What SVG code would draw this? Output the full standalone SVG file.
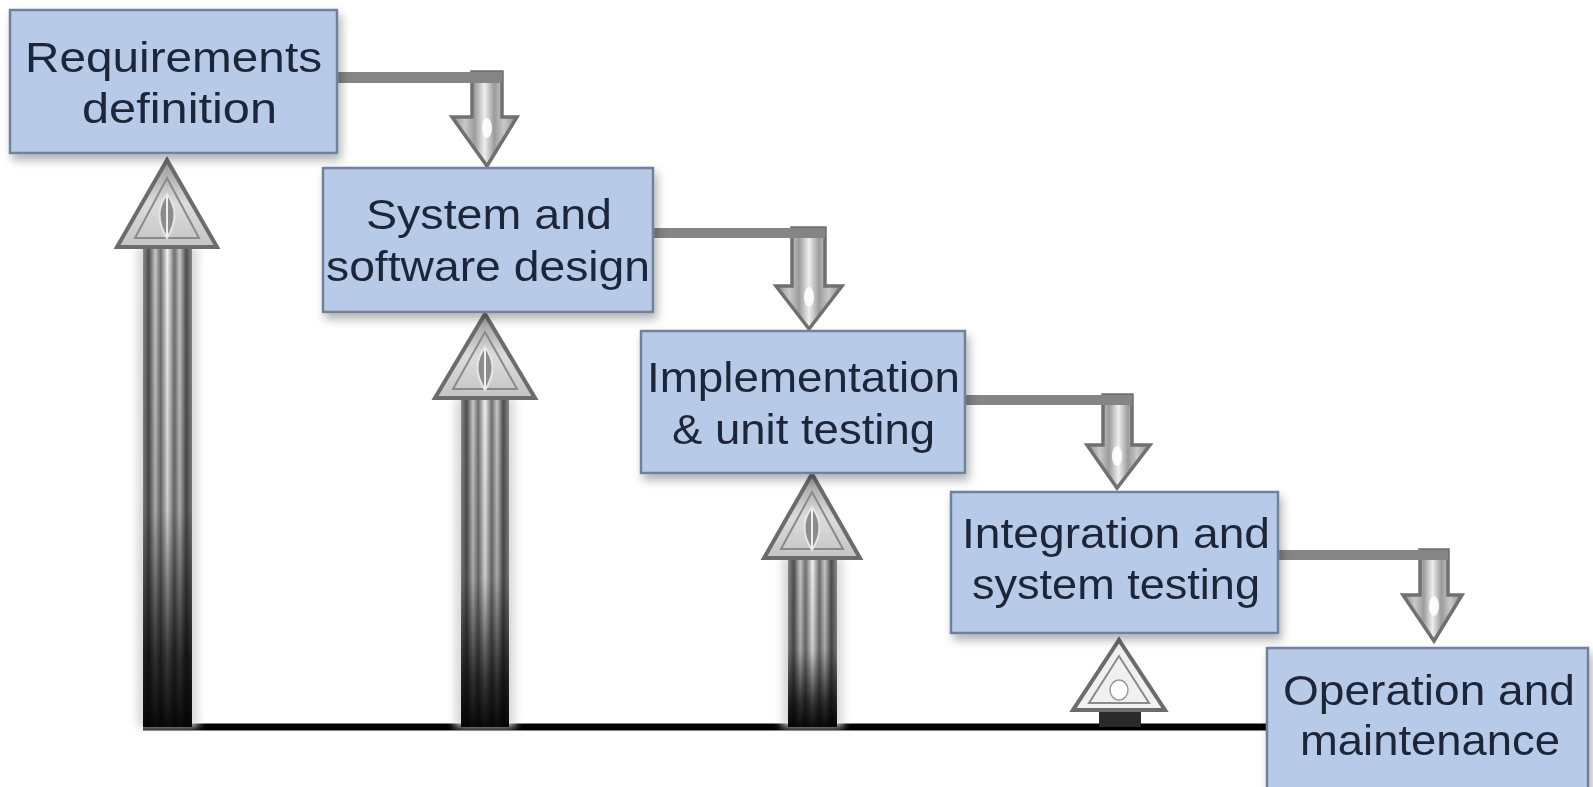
<svg xmlns="http://www.w3.org/2000/svg" width="1593" height="787" viewBox="0 0 1593 787">
<defs>
<style>
.box{fill:#b7cbe8;stroke:#6f819b;stroke-width:2.5}
.lbl{font-family:"Liberation Sans",Arial,sans-serif;font-size:42px;fill:#1b2638}
.bar{fill:#858585}
.dshaft{fill:url(#dgrad);stroke:#707070;stroke-width:3.5;stroke-linejoin:miter}
.uhead{fill:url(#hgrad);stroke:#6c6c6c;stroke-width:4;stroke-linejoin:miter}
.uinner{fill:none;stroke:#8a8a8a;stroke-width:2}
.ueye{fill:#8c8c8c;stroke:#e6e6e6;stroke-width:2}
.ushaft{fill:url(#sgrad)}
.udark{fill:url(#vgrad)}
.glow{fill:#d8d8d8;filter:url(#blur)}
.glint{fill:#ffffff;opacity:0.9}
</style>
<filter id="shadow" x="-10%" y="-10%" width="130%" height="140%">
<feDropShadow dx="3" dy="6" stdDeviation="5" flood-color="#000" flood-opacity="0.3"/>
</filter>
<filter id="blur" x="-50%" y="-10%" width="200%" height="120%">
<feGaussianBlur stdDeviation="4"/>
</filter>
<linearGradient id="dgrad" x1="0" y1="0" x2="1" y2="0">
<stop offset="0" stop-color="#8a8a8a"/>
<stop offset="0.2" stop-color="#c8c8c8"/>
<stop offset="0.35" stop-color="#9c9c9c"/>
<stop offset="0.5" stop-color="#eeeeee"/>
<stop offset="0.65" stop-color="#9c9c9c"/>
<stop offset="0.8" stop-color="#c8c8c8"/>
<stop offset="1" stop-color="#8a8a8a"/>
</linearGradient>
<linearGradient id="hgrad" x1="0" y1="0" x2="0" y2="1">
<stop offset="0" stop-color="#9a9a9a"/>
<stop offset="0.5" stop-color="#dcdcdc"/>
<stop offset="1" stop-color="#c4c4c4"/>
</linearGradient>
<linearGradient id="sgrad" x1="0" y1="0" x2="1" y2="0">
<stop offset="0" stop-color="#8a8a8a"/>
<stop offset="0.12" stop-color="#4e4e4e"/>
<stop offset="0.25" stop-color="#c8c8c8"/>
<stop offset="0.36" stop-color="#707070"/>
<stop offset="0.5" stop-color="#f2f2f2"/>
<stop offset="0.64" stop-color="#707070"/>
<stop offset="0.75" stop-color="#c8c8c8"/>
<stop offset="0.88" stop-color="#4e4e4e"/>
<stop offset="1" stop-color="#8a8a8a"/>
</linearGradient>
<linearGradient id="vgrad" x1="0" y1="0" x2="0" y2="1">
<stop offset="0" stop-color="#000" stop-opacity="0"/>
<stop offset="0.55" stop-color="#000" stop-opacity="0.15"/>
<stop offset="0.85" stop-color="#000" stop-opacity="0.75"/>
<stop offset="1" stop-color="#000" stop-opacity="0.95"/>
</linearGradient>
</defs>
<rect width="1593" height="787" fill="#ffffff"/>

<g id="connectors">
<g id="down1">
<polygon class="dshaft" points="472,72 502,72 502,117 517,117 487,166 452,117 472,117"/>
<rect class="bar" x="337" y="72" width="165" height="11"/>
<ellipse class="glint" cx="487" cy="128" rx="5" ry="10"/>
</g>
<g id="down2">
<polygon class="dshaft" points="792,228 825,228 825,286 842,286 809,329 776,286 792,286"/>
<rect class="bar" x="653" y="228" width="172" height="10"/>
<ellipse class="glint" cx="809" cy="297" rx="5" ry="10"/>
</g>
<g id="down3">
<polygon class="dshaft" points="1103,395 1132,395 1132,445 1150,445 1117,488 1087,445 1103,445"/>
<rect class="bar" x="965" y="395" width="167" height="10"/>
<ellipse class="glint" cx="1117" cy="456" rx="5" ry="10"/>
</g>
<g id="down4">
<polygon class="dshaft" points="1420,550 1448,550 1448,595 1462,595 1434,641 1403,595 1420,595"/>
<rect class="bar" x="1278" y="550" width="170" height="10"/>
<ellipse class="glint" cx="1434" cy="606" rx="5" ry="10"/>
</g>

<line x1="143" y1="727" x2="1268" y2="727" stroke="#000" stroke-width="7"/>

<g id="up1">
<rect class="glow" x="137" y="247" width="61" height="480"/>
<rect class="ushaft" x="143" y="245" width="49" height="482"/>
<rect class="udark" x="143" y="245" width="49" height="482"/>
<polygon class="uhead" points="167,160 217,247 117,247"/>
<polygon class="uinner" points="167,178 199,238 135,238"/>
<path class="ueye" d="M167,194 Q182,214 167,238 Q152,214 167,194 Z"/>
<line x1="167" y1="196" x2="167" y2="236" stroke="#f0f0f0" stroke-width="2"/>
</g>
<g id="up2">
<rect class="glow" x="455" y="398" width="60" height="329"/>
<rect class="ushaft" x="461" y="396" width="48" height="331"/>
<rect class="udark" x="461" y="396" width="48" height="331"/>
<polygon class="uhead" points="485,314 535,398 435,398"/>
<polygon class="uinner" points="485,332 517,389 453,389"/>
<path class="ueye" d="M485,347 Q500,367 485,390 Q470,367 485,347 Z"/>
<line x1="485" y1="349" x2="485" y2="388" stroke="#f0f0f0" stroke-width="2"/>
</g>
<g id="up3">
<rect class="glow" x="782" y="558" width="61" height="169"/>
<rect class="ushaft" x="788" y="556" width="49" height="171"/>
<rect class="udark" x="788" y="556" width="49" height="171"/>
<polygon class="uhead" points="812,474 860,558 764,558"/>
<polygon class="uinner" points="812,492 843,549 781,549"/>
<path class="ueye" d="M812,507 Q827,527 812,550 Q797,527 812,507 Z"/>
<line x1="812" y1="509" x2="812" y2="548" stroke="#f0f0f0" stroke-width="2"/>
</g>
<g id="up4">
<rect x="1099" y="706" width="42" height="21" fill="#2a2a2a"/>
<polygon class="uhead" points="1119,640 1165,710 1073,710" style="fill:#f0f0f0"/>
<polygon class="uinner" points="1119,656 1149,703 1089,703"/>
<ellipse cx="1119" cy="690" rx="9" ry="10" fill="#ffffff" stroke="#9a9a9a" stroke-width="1.5"/>
</g>
</g>

<g id="node-requirements" filter="url(#shadow)">
<rect class="box" x="10" y="10" width="327" height="143"/>
<text class="lbl" x="25" y="72" textLength="297" lengthAdjust="spacingAndGlyphs">Requirements</text>
<text class="lbl" x="82" y="123" textLength="195" lengthAdjust="spacingAndGlyphs">definition</text>
</g>
<g id="node-design" filter="url(#shadow)">
<rect class="box" x="323" y="168" width="330" height="144"/>
<text class="lbl" x="366" y="229" textLength="246" lengthAdjust="spacingAndGlyphs">System and</text>
<text class="lbl" x="326" y="281" textLength="324" lengthAdjust="spacingAndGlyphs">software design</text>
</g>
<g id="node-implementation" filter="url(#shadow)">
<rect class="box" x="641" y="331" width="324" height="142"/>
<text class="lbl" x="647" y="392" textLength="313" lengthAdjust="spacingAndGlyphs">Implementation</text>
<text class="lbl" x="672" y="444" textLength="263" lengthAdjust="spacingAndGlyphs">&amp; unit testing</text>
</g>
<g id="node-integration" filter="url(#shadow)">
<rect class="box" x="951" y="492" width="327" height="141"/>
<text class="lbl" x="962" y="548" textLength="308" lengthAdjust="spacingAndGlyphs">Integration and</text>
<text class="lbl" x="972" y="599" textLength="288" lengthAdjust="spacingAndGlyphs">system testing</text>
</g>
<g id="node-operation" filter="url(#shadow)">
<rect class="box" x="1267" y="648" width="321" height="150"/>
<text class="lbl" x="1283" y="705" textLength="292" lengthAdjust="spacingAndGlyphs">Operation and</text>
<text class="lbl" x="1300" y="755" textLength="260" lengthAdjust="spacingAndGlyphs">maintenance</text>
</g>
</svg>
